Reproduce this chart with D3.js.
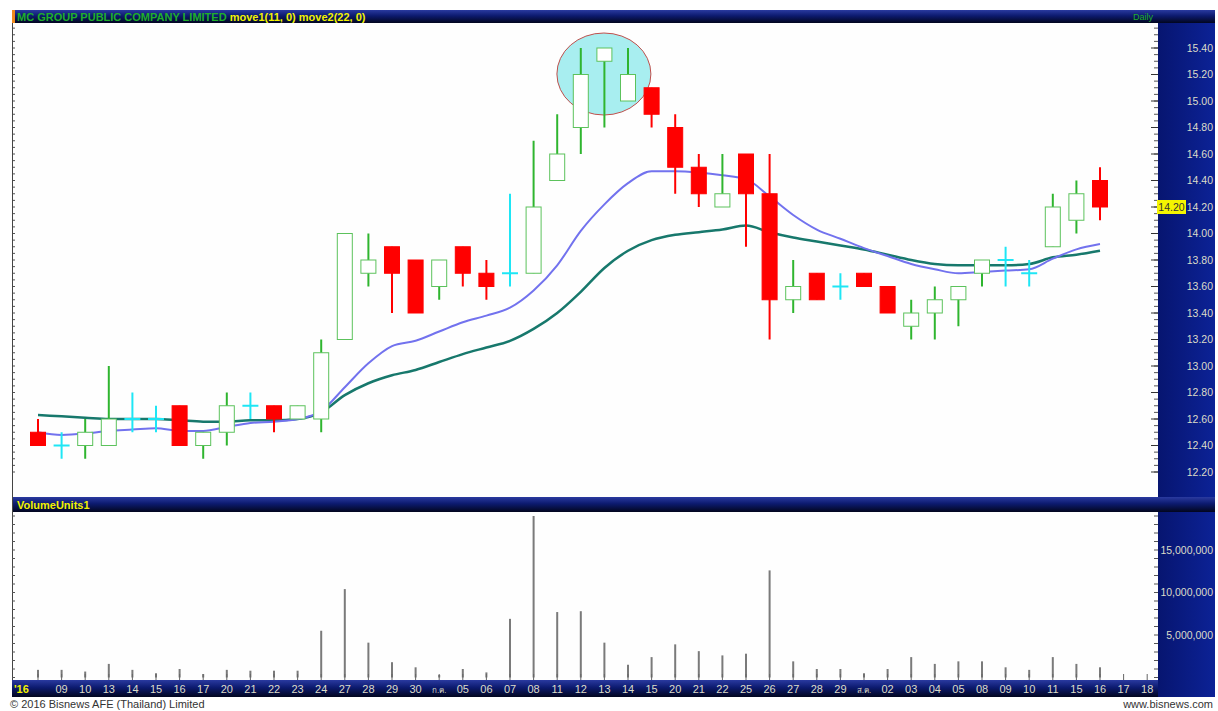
<!DOCTYPE html>
<html>
<head>
<meta charset="utf-8">
<script src="https://cdn.jsdelivr.net/npm/d3@7"></script>
<style>
  body { margin: 0; background: #ffffff; }
  svg { display: block; font-family: "Liberation Sans", Arial, sans-serif; }
</style>
</head>
<body>
<svg id="chart" width="1218" height="711"></svg>
<script>
// Trading day labels (Jun - Aug 2016), two extra empty slots at the end
const dates = ["'16","09","10","13","14","15","16","17","20","21","22","23","24","27","28","29","30","ก.ค.",
  "05","06","07","08","11","12","13","14","15","20","21","22","25","26","27","28","29","ส.ค.",
  "02","03","04","05","08","09","10","11","15","16","17","18"];

// OHLC per day
const open  = [12.50,12.40,12.40,12.40,12.60,12.60,12.70,12.40,12.50,12.70,12.70,12.60,12.60,13.20,13.70,13.90,13.80,13.60,
  13.90,13.70,13.70,13.70,14.40,14.80,15.30,15.00,15.10,14.80,14.50,14.20,14.60,14.30,13.50,13.70,13.60,13.70,
  13.60,13.30,13.40,13.50,13.70,13.80,13.70,13.90,14.10,14.40];
const high  = [12.60,12.50,12.60,13.00,12.80,12.70,12.70,12.50,12.80,12.80,12.70,12.70,13.20,14.00,14.00,13.90,13.80,13.80,
  13.90,13.80,14.30,14.70,14.90,15.40,15.40,15.40,15.10,14.90,14.60,14.60,14.60,14.60,13.80,13.70,13.70,13.70,
  13.60,13.50,13.60,13.60,13.80,13.90,13.80,14.30,14.40,14.50];
const low   = [12.40,12.30,12.30,12.40,12.50,12.50,12.40,12.30,12.40,12.60,12.50,12.60,12.50,13.20,13.60,13.40,13.40,13.50,
  13.60,13.50,13.60,13.70,14.40,14.60,14.80,15.00,14.80,14.30,14.20,14.20,13.90,13.20,13.40,13.50,13.50,13.60,
  13.40,13.20,13.20,13.30,13.60,13.60,13.60,13.90,14.00,14.10];
const close = [12.40,12.40,12.50,12.60,12.60,12.60,12.40,12.50,12.70,12.70,12.60,12.70,13.10,14.00,13.80,13.70,13.40,13.80,
  13.70,13.60,13.70,14.20,14.60,15.20,15.40,15.20,14.90,14.50,14.30,14.30,14.30,13.50,13.60,13.50,13.60,13.60,
  13.40,13.40,13.50,13.60,13.80,13.80,13.70,14.20,14.30,14.20];

// Moving averages
const move1 = [12.50,12.48,12.49,12.51,12.52,12.53,12.51,12.51,12.54,12.57,12.58,12.60,12.66,12.84,13.02,13.15,13.19,13.26,
  13.33,13.38,13.44,13.57,13.76,14.02,14.22,14.38,14.47,14.47,14.46,14.44,14.41,14.28,14.14,14.03,13.96,13.89,
  13.83,13.77,13.73,13.70,13.71,13.72,13.73,13.81,13.88,13.92];
const move2 = [12.63,12.62,12.61,12.60,12.60,12.60,12.59,12.58,12.58,12.59,12.59,12.60,12.65,12.78,12.87,12.93,12.97,13.03,
  13.09,13.14,13.19,13.28,13.40,13.56,13.74,13.87,13.95,13.99,14.01,14.03,14.06,14.01,13.97,13.94,13.91,13.88,
  13.84,13.80,13.77,13.76,13.76,13.76,13.77,13.82,13.84,13.87];

// Volume in millions of units
const volume = [0.9,0.9,0.7,1.6,0.9,0.5,1.0,0.4,0.9,0.8,0.8,0.8,5.5,10.4,4.1,1.8,1.2,0.3,
  1.0,0.6,6.9,19.0,7.7,7.8,4.1,1.5,2.4,3.9,3.1,2.6,2.8,12.6,1.9,1.0,1.0,0.5,
  1.0,2.4,1.6,1.9,1.9,1.2,0.9,2.4,1.6,1.2];

const priceTicks = d3.range(12.2, 15.41, 0.2);
const volumeTicks = [5000000, 10000000, 15000000];
const lastPrice = 14.20;

/*
** LAYOUT
*/
const svg = d3.select("#chart");
const padL = 12, plotR = 1158, padR = 1215;
const plotT = 23, priceB = 497, volT = 512, volB = 680, axisB = 697;

let x = d3.scaleBand().domain(d3.range(dates.length)).range([26.2, 26.2 + 23.6 * dates.length]);
let cx = i => x(i) + x.bandwidth() / 2;
let y = d3.scaleLinear().domain([12.2, 15.4]).range([472, 48]);
let yv = d3.scaleLinear().domain([0, 15000000]).range([677.5, 550]);

// gradients for the dark bars
let defs = svg.append("defs");
let g1 = defs.append("linearGradient").attr("id", "bar").attr("x1", 0).attr("y1", 0).attr("x2", 0).attr("y2", 1);
g1.append("stop").attr("offset", "0%").attr("stop-color", "#2a3aa0");
g1.append("stop").attr("offset", "45%").attr("stop-color", "#0c1a6e");
g1.append("stop").attr("offset", "100%").attr("stop-color", "#02061e");
let g2 = defs.append("linearGradient").attr("id", "panel").attr("x1", 0).attr("y1", 0).attr("x2", 1).attr("y2", 0);
g2.append("stop").attr("offset", "0%").attr("stop-color", "#071570");
g2.append("stop").attr("offset", "100%").attr("stop-color", "#0c2296");

// backgrounds
svg.append("rect").attr("x", padL).attr("y", plotT).attr("width", plotR - padL).attr("height", priceB - plotT).attr("fill", "#fefefe");
svg.append("rect").attr("x", padL).attr("y", volT).attr("width", plotR - padL).attr("height", volB - volT).attr("fill", "#fefefe");
svg.append("rect").attr("x", plotR).attr("y", plotT).attr("width", padR - plotR).attr("height", priceB - plotT).attr("fill", "url(#panel)");
svg.append("rect").attr("x", plotR).attr("y", volT).attr("width", padR - plotR).attr("height", axisB - volT).attr("fill", "url(#panel)");
svg.append("rect").attr("x", padL).attr("y", 10).attr("width", padR - padL).attr("height", plotT - 10).attr("fill", "url(#bar)");
svg.append("rect").attr("x", padL).attr("y", priceB).attr("width", padR - padL).attr("height", volT - priceB).attr("fill", "url(#bar)");
svg.append("rect").attr("x", padL).attr("y", volB).attr("width", plotR - padL).attr("height", axisB - volB).attr("fill", "url(#bar)");
svg.append("rect").attr("x", padL).attr("y", 10).attr("width", 3).attr("height", plotT - 10).attr("fill", "#f08a1c");

// header texts
let head = svg.append("text").attr("x", 17).attr("y", 20.5).attr("font-size", 11).attr("font-weight", "bold");
head.append("tspan").attr("fill", "#1fae2a").text("MC GROUP PUBLIC COMPANY LIMITED ");
head.append("tspan").attr("fill", "#f2f200").text("move1(11, 0) move2(22, 0)");
svg.append("text").attr("x", 1153).attr("y", 20).attr("text-anchor", "end").attr("font-size", 9).attr("fill", "#1fae2a").text("Daily");
svg.append("text").attr("x", 17).attr("y", 508.5).attr("font-size", 11).attr("font-weight", "bold").attr("fill", "#f2f200").text("VolumeUnits1");

/*
** PRICE PANEL
*/
// highlight ellipse around the top
svg.append("ellipse").attr("cx", cx(24) - 0.5).attr("cy", 74).attr("rx", 47).attr("ry", 41)
  .attr("fill", "#a8eef0").attr("stroke", "#c0504d").attr("stroke-width", 1);

// minor ruler ticks on both edges
let minor = d3.range(12.2, 15.56, 0.05);
svg.append("g").selectAll("line").data(minor).enter().append("line")
  .attr("x1", plotR - 4).attr("x2", plotR).attr("y1", d => y(d)).attr("y2", d => y(d))
  .attr("stroke", "#555").attr("stroke-width", 1);
svg.append("g").selectAll("line").data(priceTicks).enter().append("line")
  .attr("x1", plotR - 7).attr("x2", plotR).attr("y1", d => y(d)).attr("y2", d => y(d))
  .attr("stroke", "#333").attr("stroke-width", 1);
svg.append("g").selectAll("line").data(minor).enter().append("line")
  .attr("x1", padL).attr("x2", padL + 3).attr("y1", d => y(d)).attr("y2", d => y(d))
  .attr("stroke", "#555").attr("stroke-width", 1);
svg.append("line").attr("x1", padL + 0.5).attr("x2", padL + 0.5).attr("y1", plotT).attr("y2", volB).attr("stroke", "#444");

// price axis labels
let yAxis = d3.axisRight(y).tickValues(priceTicks).tickFormat(d3.format(".2f")).tickSize(0).tickPadding(0);
let ya = svg.append("g").attr("transform", `translate(${padR - 2},0)`).call(yAxis);
ya.select(".domain").remove();
ya.selectAll("text").attr("text-anchor", "end").attr("fill", "#dcdcc8").attr("font-size", 10.5).attr("font-family", "Liberation Sans, Arial");

// last price marker
svg.append("rect").attr("x", plotR - 1).attr("y", y(lastPrice) - 7).attr("width", 29).attr("height", 14).attr("fill", "#f5f500");
svg.append("text").attr("x", plotR + 13.5).attr("y", y(lastPrice) + 4).attr("text-anchor", "middle")
  .attr("font-size", 10.5).attr("fill", "#333").text(lastPrice.toFixed(2));

// moving averages
let idx = d3.range(move1.length);
let line1 = d3.line().x(i => cx(i)).y(i => y(move1[i])).curve(d3.curveMonotoneX);
let line2 = d3.line().x(i => cx(i)).y(i => y(move2[i])).curve(d3.curveMonotoneX);
svg.append("path").attr("d", line2(idx)).attr("fill", "none").attr("stroke", "#17786c").attr("stroke-width", 2.5);
svg.append("path").attr("d", line1(idx)).attr("fill", "none").attr("stroke", "#7272ee").attr("stroke-width", 2);

// candles
function candleColor(i) {
  if (open[i] === close[i]) return "#1ee6f5";
  return close[i] > open[i] ? "#2fb52f" : "#ff0000";
}
let bodyW = 15;
let candles = svg.append("g").selectAll("g").data(d3.range(open.length)).enter().append("g");
candles.append("line")
  .attr("x1", i => cx(i)).attr("x2", i => cx(i))
  .attr("y1", i => y(high[i])).attr("y2", i => y(low[i]))
  .attr("stroke", i => candleColor(i)).attr("stroke-width", 2);
candles.filter(i => open[i] !== close[i]).append("rect")
  .attr("x", i => cx(i) - bodyW / 2)
  .attr("y", i => y(Math.max(open[i], close[i])))
  .attr("width", bodyW)
  .attr("height", i => y(Math.min(open[i], close[i])) - y(Math.max(open[i], close[i])))
  .attr("fill", i => close[i] > open[i] ? "#ffffff" : "#ff0000")
  .attr("stroke", i => close[i] > open[i] ? "#5cc25c" : "#ff0000")
  .attr("stroke-width", 1);
candles.filter(i => open[i] === close[i]).append("line")
  .attr("x1", i => cx(i) - 8).attr("x2", i => cx(i) + 8)
  .attr("y1", i => y(open[i])).attr("y2", i => y(open[i]))
  .attr("stroke", "#1ee6f5").attr("stroke-width", 2);

/*
** VOLUME PANEL
*/
svg.append("g").selectAll("line").data(d3.range(0, 19.6e6, 1e6)).enter().append("line")
  .attr("x1", plotR - 4).attr("x2", plotR).attr("y1", d => yv(d)).attr("y2", d => yv(d))
  .attr("stroke", "#555");
svg.append("g").selectAll("line").data(d3.range(0, 19.6e6, 1e6)).enter().append("line")
  .attr("x1", padL).attr("x2", padL + 3).attr("y1", d => yv(d)).attr("y2", d => yv(d))
  .attr("stroke", "#555");
svg.append("g").selectAll("rect").data(volume).enter().append("rect")
  .attr("x", (d, i) => cx(i) - 1)
  .attr("y", d => yv(d * 1e6))
  .attr("width", 2)
  .attr("height", d => yv(0) - yv(d * 1e6))
  .attr("fill", "#7a7a7a");

let vAxis = d3.axisRight(yv).tickValues(volumeTicks).tickFormat(d3.format(",")).tickSize(0).tickPadding(0);
let va = svg.append("g").attr("transform", `translate(${padR - 2},0)`).call(vAxis);
va.select(".domain").remove();
va.selectAll("text").attr("text-anchor", "end").attr("fill", "#dcdcc8").attr("font-size", 10.5).attr("font-family", "Liberation Sans, Arial");

/*
** DATE AXIS
*/
svg.append("g").selectAll("line").data(d3.range(dates.length)).enter().append("line")
  .attr("x1", i => cx(i)).attr("x2", i => cx(i))
  .attr("y1", volB - 6).attr("y2", volB)
  .attr("stroke", "#666");
svg.append("g").selectAll("text").data(dates).enter().append("text")
  .attr("x", (d, i) => i === 0 ? 14 : cx(i))
  .attr("y", 692.5)
  .attr("text-anchor", (d, i) => i === 0 ? "start" : "middle")
  .attr("font-size", (d, i) => d.indexOf(".") >= 0 ? 8 : 11)
  .attr("font-weight", (d, i) => i === 0 ? "bold" : "normal")
  .attr("fill", (d, i) => i === 0 ? "#f2f200" : "#dcdcc8")
  .text(d => d);

// footer
svg.append("text").attr("x", 10).attr("y", 708).attr("font-size", 11).attr("fill", "#333")
  .text("© 2016 Bisnews AFE (Thailand) Limited");
svg.append("text").attr("x", 1213).attr("y", 708).attr("text-anchor", "end").attr("font-size", 11).attr("fill", "#333")
  .text("www.bisnews.com");
</script>
</body>
</html>
